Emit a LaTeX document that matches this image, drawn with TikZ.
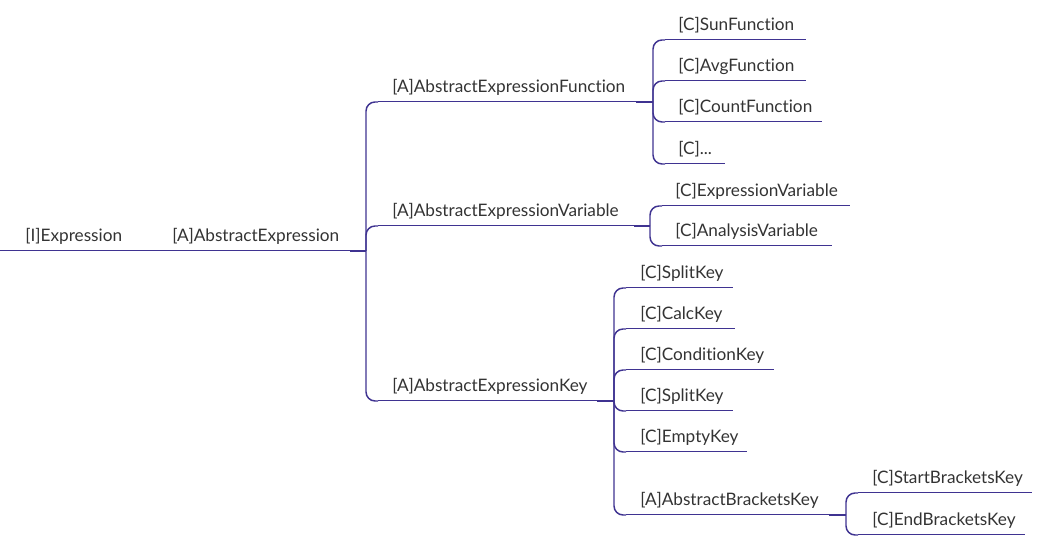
\documentclass[tikz,border=0pt]{standalone}
\usepackage{fontspec}
\setmainfont[Ligatures=NoCommon]{Lato}
\definecolor{linec}{HTML}{3F3391}
\definecolor{textc}{HTML}{333333}
\tikzset{
  lbl/.style={anchor=base west, inner sep=0pt, font=\fontsize{12.9}{15}\selectfont, text=textc},
  uline/.style={draw=linec, line width=0.75pt},
  conn/.style={draw=linec, line width=1.1pt, rounded corners=6.75pt},
  stub/.style={draw=linec, line width=1.5pt}
}
\newcommand\mmnode[6]{%
  \node[lbl] (#1) at (#3,#4-9) {#6};
  \coordinate (#1-l) at (#2,#4);
  \coordinate (#1-r) at (#5,#4);
  \draw[uline] (#1-l) -- (#1-r);}
\begin{document}
\begin{tikzpicture}[x=0.75pt,y=-0.75pt]
\useasboundingbox (0,0) rectangle (1053,548);
% root and level 0
\mmnode{root}{0}{25}{251}{130}{[I]Expression}
\mmnode{ae}{163}{172}{251}{350}{[A]AbstractExpression}
\draw[uline] (root-r) -- (ae-l);
\coordinate (ae-j) at (366,251);
\draw[stub] (ae-r) -- (ae-j);
% level 1
\mmnode{fn}{378}{392}{102}{636}{[A]AbstractExpressionFunction}
\mmnode{var}{378}{392}{226}{634}{[A]AbstractExpressionVariable}
\mmnode{key}{378}{392}{401}{597}{[A]AbstractExpressionKey}
\foreach \c in {fn,var,key} \draw[conn] (ae-j) |- (\c-l);
% function children
\coordinate (fn-j) at (653,102);
\draw[stub] (fn-r) -- (fn-j);
\mmnode{sun}{665}{678}{40}{806}{[C]SunFunction}
\mmnode{avg}{665}{678}{81}{806}{[C]AvgFunction}
\mmnode{cnt}{665}{678}{122}{822}{[C]CountFunction}
\mmnode{dots}{665}{678}{164}{725}{[C]...}
\foreach \c in {sun,avg,cnt,dots} \draw[conn] (fn-j) |- (\c-l);
% variable children
\coordinate (var-j) at (650,226);
\draw[stub] (var-r) -- (var-j);
\mmnode{ev}{662}{675}{206}{850}{[C]ExpressionVariable}
\mmnode{av}{662}{675}{246}{832}{[C]AnalysisVariable}
\foreach \c in {ev,av} \draw[conn] (var-j) |- (\c-l);
% key children
\coordinate (key-j) at (614,401);
\draw[stub] (key-r) -- (key-j);
\mmnode{splitA}{626}{640}{288}{733}{[C]SplitKey}
\mmnode{calc}{626}{640}{329}{735}{[C]CalcKey}
\mmnode{cond}{626}{640}{370}{774}{[C]ConditionKey}
\mmnode{splitB}{626}{640}{411}{733}{[C]SplitKey}
\mmnode{empty}{626}{640}{452}{747}{[C]EmptyKey}
\mmnode{brk}{626}{640}{515}{829}{[A]AbstractBracketsKey}
\foreach \c in {splitA,calc,cond,splitB,empty,brk} \draw[conn] (key-j) |- (\c-l);
% brackets children
\coordinate (brk-j) at (846,515);
\draw[stub] (brk-r) -- (brk-j);
\mmnode{sbk}{858}{872}{493}{1032}{[C]StartBracketsKey}
\mmnode{ebk}{858}{872}{535}{1025}{[C]EndBracketsKey}
\foreach \c in {sbk,ebk} \draw[conn] (brk-j) |- (\c-l);
\end{tikzpicture}
\end{document}
